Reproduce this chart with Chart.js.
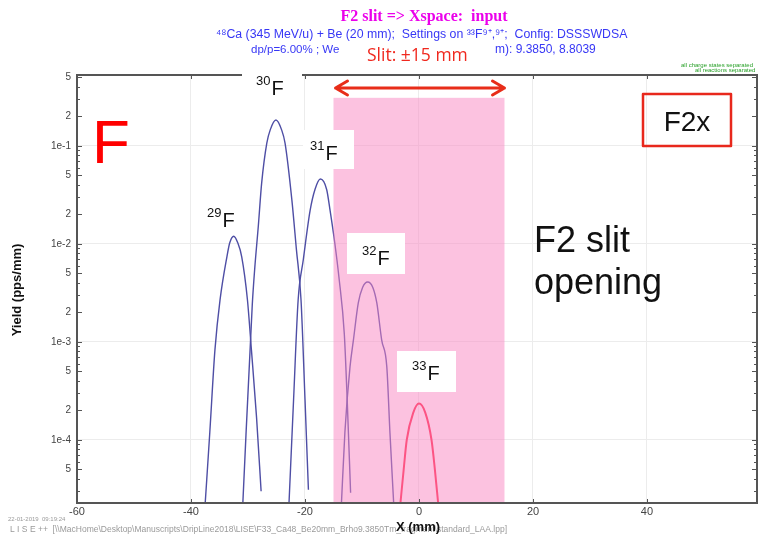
<!DOCTYPE html>
<html>
<head>
<meta charset="utf-8">
<script src="https://cdn.jsdelivr.net/npm/chart.js@4/dist/chart.umd.min.js"></script>
<style>
  html, body { margin: 0; padding: 0; background: #fff; }
  canvas { display: block; }
</style>
</head>
<body>
<canvas id="c" width="759" height="537"></canvas>
<script>
// Fluorine isotope yield distributions at the F2 slit (x in mm, yield in pps/mm)
const f29X = [-37.5, -36.7, -35.8, -34.9, -33.7, -33.2, -32.5, -31.8, -31.1, -30.1, -29.4, -28.5, -27.7];
const f29Y = [2.3e-5, 1.2e-4, 8.3e-4, 2.7e-3, 7.4e-3, 1.03e-2, 1.2e-2, 1.03e-2, 7.4e-3, 2.7e-3, 8.3e-4, 1.7e-4, 3.0e-5];

const f30X = [-30.9, -29.25, -28.8, -28.2, -27.6, -26.7, -26.1, -25.1, -24.1, -23.5, -22.3, -21.5, -20.7, -20.0, -19.4];
const f30Y = [2.3e-5, 2.4e-3, 5.8e-3, 1.5e-2, 4.2e-2, 1.07e-1, 1.46e-1, 1.84e-1, 1.46e-1, 1.07e-1, 2.8e-2, 8.7e-3, 2.7e-3, 2.6e-4, 3.1e-5];

const f31X = [-22.8, -22.0, -21.2, -20.3, -19.1, -18.25, -17.3, -16.2, -15.6, -14.75, -14.05, -13.1, -12.6, -12.0];
const f31Y = [2.3e-5, 2.6e-4, 2.7e-3, 6.9e-3, 2.2e-2, 3.6e-2, 4.6e-2, 3.6e-2, 2.2e-2, 1.0e-2, 4.6e-3, 1.2e-3, 2.6e-4, 2.9e-5];

const f32X = [-13.6, -13.0, -12.1, -11.5, -10.65, -9.9, -9.0, -8.1, -7.4, -6.55, -5.65, -5.1, -4.45];
const f32Y = [2.3e-5, 1.2e-4, 5.6e-4, 1.05e-3, 2.5e-3, 3.6e-3, 4.1e-3, 3.6e-3, 2.5e-3, 1.05e-3, 5.6e-4, 1.2e-4, 2.3e-5];

const f33X = [-3.25, -2.7, -2.15, -1.0, 0.0, 1.1, 2.2, 2.8, 3.35];
const f33Y = [2.3e-5, 4.9e-5, 1.0e-4, 1.9e-4, 2.35e-4, 1.9e-4, 1.0e-4, 4.9e-5, 2.3e-5];

// Axis ranges and ticks
const xMin = -60, xMax = 59.3;
const yMin = 2.275e-5, yMax = 0.53;
const xTickValues = [-60, -40, -20, 0, 20, 40];
const yTickValues = [5e-1, 2e-1, 1e-1, 5e-2, 2e-2, 1e-2, 5e-3, 2e-3, 1e-3, 5e-4, 2e-4, 1e-4, 5e-5];
const yTickLabels = ['5', '2', '1e-1', '5', '2', '1e-2', '5', '2', '1e-3', '5', '2', '1e-4', '5'];

// Slit acceptance window
const slitHalfWidth = 15;
const slitTop = 0.31;

const zip = (xs, ys) => xs.map((x, i) => ({ x, y: ys[i] }));

const BLUE = 'rgb(78,78,165)';
const RED = 'rgb(255,35,70)';
const SANS = 'Arial, "Liberation Sans", sans-serif';

function curve(xs, ys, color, width) {
  return {
    data: zip(xs, ys),
    borderColor: color,
    borderWidth: width,
    pointRadius: 0,
    fill: false,
    cubicInterpolationMode: 'monotone'
  };
}

function isoLabel(ctx, mass, el, x, base) {
  ctx.fillStyle = '#111';
  ctx.textAlign = 'left';
  ctx.textBaseline = 'alphabetic';
  ctx.font = '13px ' + SANS;
  ctx.fillText(mass, x, base - 10);
  const w = ctx.measureText(mass).width;
  ctx.font = '20px ' + SANS;
  ctx.fillText(el, x + w + 1, base);
}

const decor = {
  id: 'decor',
  beforeDraw(chart) {
    const ctx = chart.ctx;
    ctx.save();
    ctx.fillStyle = '#fff';
    ctx.fillRect(0, 0, chart.width, chart.height);
    ctx.restore();
  },
  afterDatasetsDraw(chart) {
    const { ctx, chartArea: a, scales: { x, y } } = chart;
    const l = x.getPixelForValue(-slitHalfWidth);
    const r = x.getPixelForValue(slitHalfWidth);
    const t = y.getPixelForValue(slitTop);
    ctx.save();
    ctx.fillStyle = 'rgba(249,133,193,0.5)';
    ctx.fillRect(l, t, r - l, a.bottom - t);
    ctx.restore();
  },
  afterDraw(chart) {
    const { ctx, chartArea: a, scales: { x, y } } = chart;
    ctx.save();

    // frame
    ctx.strokeStyle = '#555';
    ctx.lineWidth = 2;
    ctx.strokeRect(a.left, a.top, a.right - a.left, a.bottom - a.top);

    // tick marks
    ctx.lineWidth = 1;
    ctx.strokeStyle = '#555';
    ctx.beginPath();
    for (const v of xTickValues) {
      const px = Math.round(x.getPixelForValue(v)) + 0.5;
      ctx.moveTo(px, a.top); ctx.lineTo(px, a.top + 4);
      ctx.moveTo(px, a.bottom); ctx.lineTo(px, a.bottom - 4);
    }
    for (let e = -5; e <= 0; e++) {
      for (let m = 1; m <= 9; m++) {
        const v = m * Math.pow(10, e);
        if (v < yMin || v > yMax) continue;
        const py = Math.round(y.getPixelForValue(v)) + 0.5;
        const len = (m === 1 || m === 2 || m === 5) ? 5 : 3;
        ctx.moveTo(a.left, py); ctx.lineTo(a.left + len, py);
        ctx.moveTo(a.right, py); ctx.lineTo(a.right - len, py);
      }
    }
    ctx.stroke();

    // slit arrow
    const al = x.getPixelForValue(-slitHalfWidth) + 2;
    const ar = x.getPixelForValue(slitHalfWidth);
    const ay = 88;
    ctx.strokeStyle = 'rgb(232,45,25)';
    ctx.lineWidth = 3;
    ctx.lineCap = 'round';
    ctx.lineJoin = 'round';
    ctx.beginPath();
    ctx.moveTo(al, ay); ctx.lineTo(ar, ay);
    ctx.moveTo(al + 12, ay - 7); ctx.lineTo(al, ay); ctx.lineTo(al + 12, ay + 7);
    ctx.moveTo(ar - 12, ay - 7); ctx.lineTo(ar, ay); ctx.lineTo(ar - 12, ay + 7);
    ctx.stroke();

    // isotope label boxes
    ctx.fillStyle = '#fff';
    ctx.fillRect(242, 62, 60, 38);
    ctx.fillRect(303, 130, 51, 39);
    ctx.fillRect(347, 233, 58, 41);
    ctx.fillRect(397, 351, 59, 41);

    isoLabel(ctx, '29', 'F', 207, 227);
    isoLabel(ctx, '30', 'F', 256, 95);
    isoLabel(ctx, '31', 'F', 310, 160);
    isoLabel(ctx, '32', 'F', 362, 265);
    isoLabel(ctx, '33', 'F', 412, 380);

    // element tag
    ctx.fillStyle = '#ff0000';
    ctx.font = '62px ' + SANS;
    ctx.textAlign = 'left';
    ctx.textBaseline = 'alphabetic';
    ctx.fillText('F', 92, 163);

    // plane tag
    ctx.strokeStyle = 'rgb(232,40,28)';
    ctx.lineWidth = 2.5;
    ctx.strokeRect(643, 94, 88, 52);
    ctx.fillStyle = '#111';
    ctx.font = '28px ' + SANS;
    ctx.textAlign = 'center';
    ctx.fillText('F2x', 687, 131);

    // slit note
    ctx.textAlign = 'left';
    ctx.font = '36px ' + SANS;
    ctx.fillText('F2 slit', 534, 252);
    ctx.fillText('opening', 534, 294);

    // titles
    ctx.textAlign = 'center';
    ctx.fillStyle = 'rgb(235,0,235)';
    ctx.font = 'bold 16px "Liberation Serif", "Times New Roman", serif';
    ctx.fillText('F2 slit => Xspace:  input', 424, 21);

    ctx.fillStyle = 'rgb(55,55,245)';
    ctx.textAlign = 'left';
    ctx.font = '12.3px ' + SANS;
    ctx.fillText('\u2074\u2078Ca (345 MeV/u) + Be (20 mm);  Settings on \u00b3\u00b3F\u2079\u207a,\u2079\u207a;  Config: DSSSWDSA', 216, 38);
    ctx.font = '11.5px ' + SANS;
    ctx.fillText('dp/p=6.00% ; We', 251, 53);
    ctx.font = '12px ' + SANS;
    ctx.fillText('m): 9.3850, 8.8039', 495, 53);

    ctx.fillStyle = 'rgb(240,40,30)';
    ctx.font = '17.5px "Open Sans", Arial, sans-serif';
    ctx.fillText('Slit: \u00b115 mm', 367, 61);

    // status text
    ctx.fillStyle = 'rgb(40,160,40)';
    ctx.font = '6px ' + SANS;
    ctx.fillText('all charge states separated', 681, 67);
    ctx.fillText('all reactions separated', 695, 72);

    ctx.fillStyle = '#9a9a9a';
    ctx.font = '6px ' + SANS;
    ctx.fillText('22-01-2019  09:19:24', 8, 521);
    ctx.font = '9px ' + SANS;
    ctx.fillText('L I S E ++  [\\\\MacHome\\Desktop\\Manuscripts\\DripLine2018\\LISE\\F33_Ca48_Be20mm_Brho9.3850Tm_fragment\\standard_LAA.lpp]', 10, 532, 497);

    // axis titles
    ctx.fillStyle = '#111';
    ctx.textAlign = 'center';
    ctx.font = 'bold 13px ' + SANS;
    ctx.fillText('X (mm)', 418, 531);

    ctx.translate(21, 290);
    ctx.rotate(-Math.PI / 2);
    ctx.font = 'bold 13px ' + SANS;
    ctx.fillText('Yield (pps/mm)', 0, 0);

    ctx.restore();
  }
};

new Chart(document.getElementById('c'), {
  type: 'line',
  data: {
    datasets: [
      curve(f29X, f29Y, BLUE, 1.4),
      curve(f30X, f30Y, BLUE, 1.4),
      curve(f31X, f31Y, BLUE, 1.4),
      curve(f32X, f32Y, BLUE, 1.4),
      curve(f33X, f33Y, RED, 2)
    ]
  },
  options: {
    responsive: false,
    animation: false,
    devicePixelRatio: 1,
    layout: { padding: { top: 75, right: 2, left: 0, bottom: 0 } },
    plugins: { legend: { display: false }, title: { display: false }, tooltip: { enabled: false } },
    scales: {
      x: {
        type: 'linear',
        min: xMin,
        max: xMax,
        afterBuildTicks: s => { s.ticks = xTickValues.map(v => ({ value: v })); },
        afterFit: s => { s.height = 34; },
        border: { display: false },
        grid: {
          drawTicks: false,
          color: c => (c.tick && c.tick.value !== xMin) ? '#ececec' : 'transparent'
        },
        ticks: {
          autoSkip: false,
          maxRotation: 0,
          padding: 2,
          color: '#444',
          font: { family: SANS, size: 11 },
          callback: v => String(v)
        }
      },
      y: {
        type: 'logarithmic',
        min: yMin,
        max: yMax,
        afterBuildTicks: s => { s.ticks = yTickValues.map(v => ({ value: v })); },
        afterFit: s => { s.width = 77; },
        border: { display: false },
        grid: {
          drawTicks: false,
          color: c => {
            if (!c.tick) return 'transparent';
            const lg = Math.log10(c.tick.value);
            return Math.abs(lg - Math.round(lg)) < 1e-6 ? '#ececec' : 'transparent';
          }
        },
        ticks: {
          autoSkip: false,
          padding: 6,
          color: '#444',
          font: { family: SANS, size: 10 },
          callback: (v, i) => yTickLabels[i]
        }
      }
    }
  },
  plugins: [decor]
});
</script>
</body>
</html>
